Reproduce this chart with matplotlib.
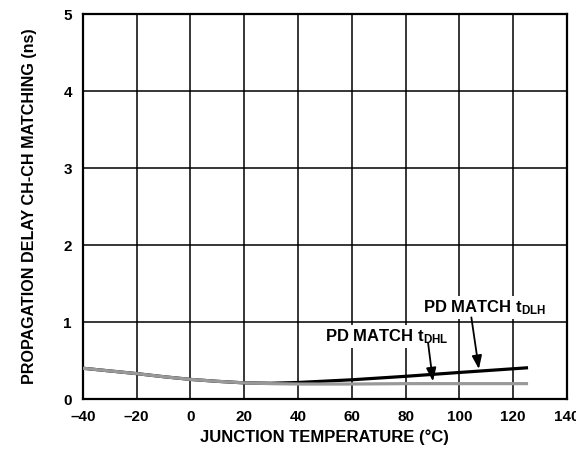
import matplotlib
matplotlib.use('Agg')
import matplotlib.pyplot as plt

plt.rcParams['font.family'] = ['Liberation Sans', 'DejaVu Sans']
plt.rcParams['font.weight'] = 'bold'
plt.rcParams['mathtext.fontset'] = 'custom'
plt.rcParams['mathtext.bf'] = 'Liberation Sans:bold'
plt.rcParams['mathtext.rm'] = 'Liberation Sans:bold'
plt.rcParams['mathtext.default'] = 'bf'

# Data
temp = [-40, -30, -20, -10, 0, 10, 20, 30, 40, 60, 80, 100, 125]
pd_dlh = [0.40, 0.365, 0.33, 0.29, 0.255, 0.23, 0.21, 0.205, 0.215, 0.25, 0.295, 0.345, 0.405]
pd_dhl = [0.40, 0.365, 0.33, 0.29, 0.255, 0.23, 0.21, 0.2, 0.195, 0.195, 0.2, 0.2, 0.2]

x_ticks = [-40, -20, 0, 20, 40, 60, 80, 100, 120, 140]
x_labels = ['–40', '–20', '0', '20', '40', '60', '80', '100', '120', '140']
y_ticks = [0, 1, 2, 3, 4, 5]

fig = plt.figure(figsize=(5.76, 4.55), dpi=100)
ax = fig.add_axes([0.144, 0.123, 0.84, 0.846])

ax.plot(temp, pd_dlh, color='black', lw=2.3, zorder=3)
ax.plot(temp, pd_dhl, color='#999999', lw=2.3, zorder=4)

ax.set_xlim(-40, 140)
ax.set_ylim(0, 5)
ax.set_xticks(x_ticks)
ax.set_xticklabels(x_labels)
ax.set_yticks(y_ticks)
ax.grid(True, color='black', lw=1.1)
ax.set_axisbelow(True)
ax.tick_params(length=0, labelsize=11, pad=8)
ax.tick_params(axis='y', pad=8)
for s in ax.spines.values():
    s.set_linewidth(1.6)

ax.set_xlabel('JUNCTION TEMPERATURE (°C)', fontsize=12, fontweight='bold', labelpad=4)
ax.set_ylabel('PROPAGATION DELAY CH-CH MATCHING (ns)', fontsize=11.6, fontweight='bold', labelpad=19)

box = dict(facecolor='white', edgecolor='none', pad=1.5)
ax.text(109.4, 1.19, r'PD MATCH $\mathbf{t_{DLH}}$', fontsize=12, fontweight='bold',
        ha='center', va='center', bbox=box, zorder=5)
ax.text(73.0, 0.81, r'PD MATCH $\mathbf{t_{DHL}}$', fontsize=12, fontweight='bold',
        ha='center', va='center', bbox=box, zorder=5)

arrow = dict(arrowstyle='-|>,head_length=0.8,head_width=0.3', color='black', lw=1.3,
             shrinkA=0, shrinkB=0)
ax.annotate('', xy=(107.3, 0.39), xytext=(104.5, 1.06), arrowprops=arrow, zorder=6)
ax.annotate('', xy=(90.2, 0.23), xytext=(88.4, 0.73), arrowprops=arrow, zorder=6)

fig.savefig('out.png', dpi=100)
